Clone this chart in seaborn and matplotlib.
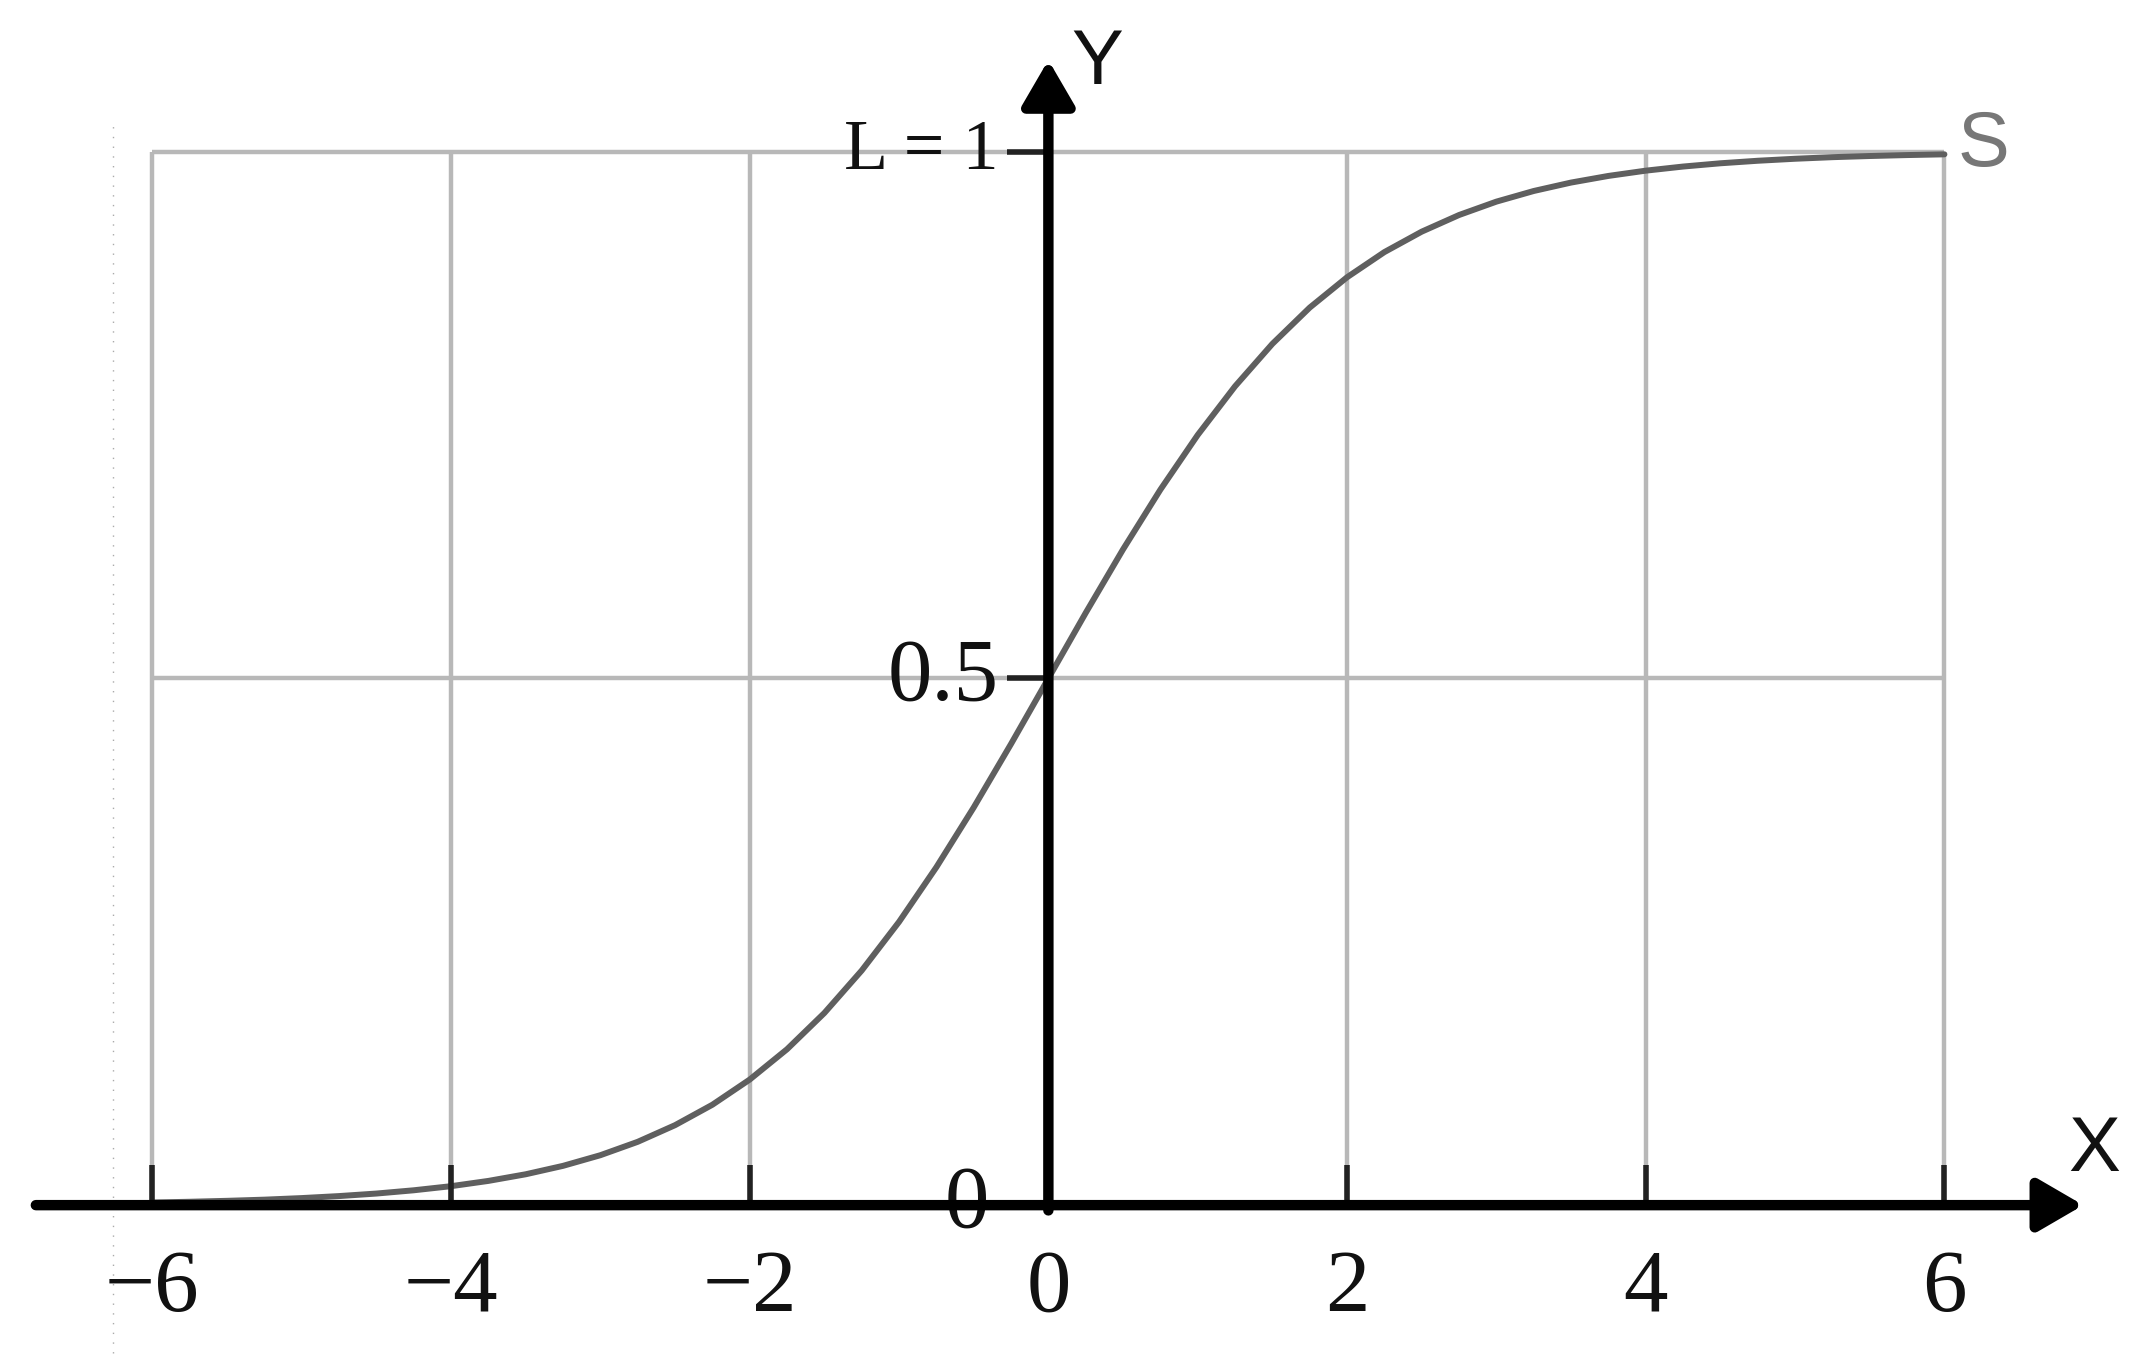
import numpy as np
import pandas as pd
import matplotlib
matplotlib.use("Agg")
import matplotlib.pyplot as plt
import seaborn as sns

# ---- data ----
x_vals = [-6.0, -5.75, -5.5, -5.25, -5.0, -4.75, -4.5, -4.25, -4.0, -3.75, -3.5, -3.25,
          -3.0, -2.75, -2.5, -2.25, -2.0, -1.75, -1.5, -1.25, -1.0, -0.75, -0.5, -0.25,
          0.0, 0.25, 0.5, 0.75, 1.0, 1.25, 1.5, 1.75, 2.0, 2.25, 2.5, 2.75, 3.0, 3.25,
          3.5, 3.75, 4.0, 4.25, 4.5, 4.75, 5.0, 5.25, 5.5, 5.75, 6.0]
y_vals = [0.0025, 0.0032, 0.0041, 0.0052, 0.0067, 0.0086, 0.0110, 0.0141, 0.0180, 0.0230,
          0.0293, 0.0373, 0.0474, 0.0601, 0.0759, 0.0953, 0.1192, 0.1480, 0.1824, 0.2227,
          0.2689, 0.3208, 0.3775, 0.4378, 0.5000, 0.5622, 0.6225, 0.6792, 0.7311, 0.7773,
          0.8176, 0.8520, 0.8808, 0.9047, 0.9241, 0.9399, 0.9526, 0.9627, 0.9707, 0.9770,
          0.9820, 0.9859, 0.9890, 0.9914, 0.9933, 0.9948, 0.9959, 0.9968, 0.9975]
x_ticks = [-6, -4, -2, 0, 2, 4, 6]
x_tick_labels = ["\u22126", "\u22124", "\u22122", "0", "2", "4", "6"]
y_grid = [0.5, 1.0]
y_labels = ["0.5", "L = 1"]

df = pd.DataFrame({"x": x_vals, "y": y_vals})

sns.set_theme(style="white")
plt.rcParams["font.family"] = ["Liberation Serif", "DejaVu Serif"]

fig = plt.figure(figsize=(21.52, 13.6), dpi=100)
ax = fig.add_axes([0, 0, 1, 1])
ax.set_xlim(-7.02, 7.39)
ax.set_ylim(-0.147, 1.144)
ax.axis("off")

grid_c = "#b8b8b8"
# faint border dotted line
ax.plot([-6.26, -6.26], [-0.14, 1.03], color="#aaaaaa", lw=1.0, ls=(0, (1, 6)), zorder=1)
# vertical grid lines
for xt in x_ticks:
    ax.plot([xt, xt], [0, 1], color=grid_c, lw=3.2, zorder=1, solid_capstyle="butt")
# horizontal grid lines
for yg in y_grid:
    ax.plot([-6, 6], [yg, yg], color=grid_c, lw=3.2, zorder=1, solid_capstyle="butt")

# curve
sns.lineplot(data=df, x="x", y="y", ax=ax, color="#5f5f5f", lw=4.3, zorder=3)
ax.lines[-1].set_solid_joinstyle("round")

# x ticks
for xt in x_ticks:
    if xt != 0:
        ax.plot([xt, xt], [0, 0.038], color="#222222", lw=4, zorder=4, solid_capstyle="butt")
# y ticks
for yg in y_grid:
    ax.plot([-0.28, 0], [yg, yg], color="#222222", lw=4, zorder=4, solid_capstyle="butt")

# axes with arrows
arrow = dict(arrowstyle="-|>,head_length=0.55,head_width=0.32", lw=7.5, color="black",
             shrinkA=0, shrinkB=0, mutation_scale=50)
ax.annotate("", xy=(6.93, 0), xytext=(-6.78, 0), arrowprops=arrow, zorder=5)
ax.annotate("", xy=(0, 1.087), xytext=(0, -0.005), arrowprops=arrow, zorder=5)

# tick labels
for xt, lab in zip(x_ticks, x_tick_labels):
    ax.text(xt, -0.08, lab, ha="center", va="center", fontsize=64, color="#111111")
ax.text(-0.33, 0.5, y_labels[0], ha="right", va="center", fontsize=64, color="#111111")
ax.text(-0.33, 1.0, y_labels[1], ha="right", va="center", fontsize=52, color="#111111")
ax.text(-0.40, 0.0, "0", ha="right", va="center", fontsize=64, color="#111111")

sans = ["Liberation Sans", "DejaVu Sans"]
ax.text(0.33, 1.084, "Y", ha="center", va="center", fontsize=56, family=sans, color="#111111")
ax.text(7.0, 0.052, "X", ha="center", va="center", fontsize=56, family=sans, color="#111111")
ax.text(6.09, 1.006, "S", ha="left", va="center", fontsize=56, family=sans, color="#777777")

fig.savefig("out.png", dpi=100)
